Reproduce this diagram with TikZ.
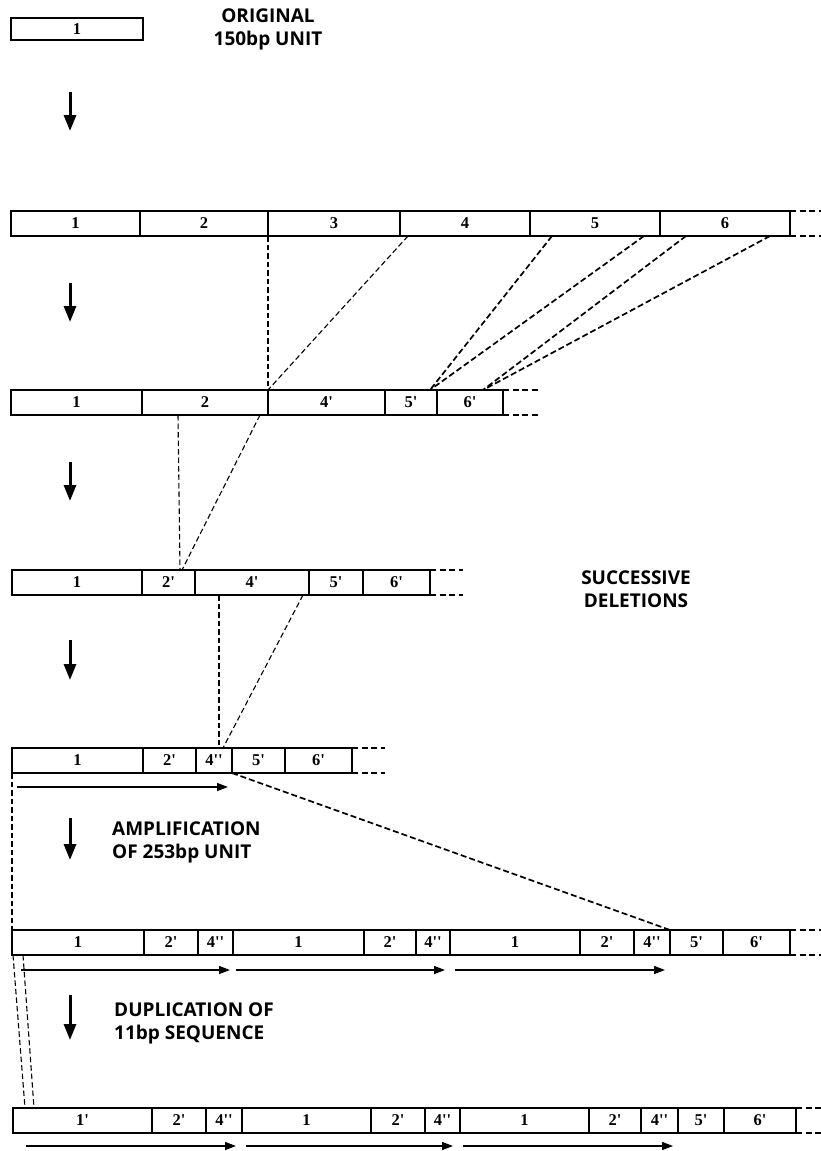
\documentclass[tikz,border=0pt]{standalone}
\usepackage{fontspec}
\setmainfont{Liberation Serif}
\newfontfamily\segfont{Liberation Serif}
\newfontfamily\labfont{Open Sans}
\usetikzlibrary{arrows.meta,calc}
\newcommand\mkseg[5]{\node[seg, minimum width={#3-#2}] (#1) at ({(#2+#3)/2},{#4+12.5}) {#5};}
\begin{document}
\begin{tikzpicture}[x=1pt,y=-1pt,
  seg/.style={draw, line width=1.3pt, rectangle, minimum height=25pt, inner sep=0pt, outer sep=0pt,
    font=\segfont\fontsize{16.5}{16.5}\selectfont\bfseries},
  lab/.style={font=\labfont\fontsize{19}{23}\selectfont\bfseries, inner sep=0pt},
  enddash/.style={line width=1.3pt, dash pattern=on 6pt off 3.5pt},
  thindash/.style={line width=1.1pt, dash pattern=on 5.5pt off 3pt},
  bolddash/.style={line width=1.7pt, dash pattern=on 6pt off 3pt},
  downarr/.style={line width=3pt, -{Triangle[length=16pt,width=12pt]}},
  unitarr/.style={line width=1.3pt, -{Triangle[length=11pt,width=8pt]}}]
\useasboundingbox (0,0) rectangle (821,1151);

% row 0
\node[seg, minimum width=132, minimum height=22] (r0) at (77,29) {1};
\node[lab, align=center] (orig) at (268,29) {ORIGINAL\\150bp UNIT};

% row 1
\mkseg{r1a}{11}{140}{211}{1}
\mkseg{r1b}{140}{268}{211}{2}
\mkseg{r1c}{268}{400}{211}{3}
\mkseg{r1d}{400}{530}{211}{4}
\mkseg{r1e}{530}{660}{211}{5}
\mkseg{r1f}{660}{790}{211}{6}
\draw[enddash] (r1f.north east) -- ++(31,0) (r1f.south east) -- ++(31,0);

% row 2
\mkseg{r2a}{11}{142}{390}{1}
\mkseg{r2b}{142}{268}{390}{2}
\mkseg{r2c}{268}{385}{390}{4'}
\mkseg{r2d}{385}{437}{390}{5'}
\mkseg{r2e}{437}{503}{390}{6'}
\draw[enddash] (r2e.north east) -- ++(35,0) (r2e.south east) -- ++(35,0);

% row 3
\mkseg{r3a}{12}{142}{570}{1}
\mkseg{r3b}{142}{195}{570}{2'}
\mkseg{r3c}{195}{309}{570}{4'}
\mkseg{r3d}{309}{363}{570}{5'}
\mkseg{r3e}{363}{430}{570}{6'}
\draw[enddash] (r3e.north east) -- ++(33,0) (r3e.south east) -- ++(33,0);
\node[lab, align=center] (succ) at (636,589) {SUCCESSIVE\\DELETIONS};

% row 4
\mkseg{r4a}{12}{143}{748}{1}
\mkseg{r4b}{143}{196}{748}{2'}
\mkseg{r4c}{196}{232}{748}{4''}
\mkseg{r4d}{232}{285}{748}{5'}
\mkseg{r4e}{285}{352}{748}{6'}
\draw[enddash] (r4e.north east) -- ++(33,0) (r4e.south east) -- ++(33,0);
\node[lab, align=left, anchor=west] (ampl) at (112,842) {AMPLIFICATION\\OF 253bp UNIT};

% row 5
\mkseg{r5a}{12}{144}{930}{1}
\mkseg{r5b}{144}{198}{930}{2'}
\mkseg{r5c}{198}{233}{930}{4''}
\mkseg{r5d}{233}{364}{930}{1}
\mkseg{r5e}{364}{416}{930}{2'}
\mkseg{r5f}{416}{450}{930}{4''}
\mkseg{r5g}{450}{580}{930}{1}
\mkseg{r5h}{580}{634}{930}{2'}
\mkseg{r5i}{634}{670}{930}{4''}
\mkseg{r5j}{670}{723}{930}{5'}
\mkseg{r5k}{723}{790}{930}{6'}
\draw[enddash] (r5k.north east) -- ++(31,0) (r5k.south east) -- ++(31,0);
\node[lab, align=left, anchor=west] (dupl) at (114,1023) {DUPLICATION OF\\11bp SEQUENCE};

% row 6
\mkseg{r6a}{13}{152}{1108}{1'}
\mkseg{r6b}{152}{206}{1108}{2'}
\mkseg{r6c}{206}{242}{1108}{4''}
\mkseg{r6d}{242}{371}{1108}{1}
\mkseg{r6e}{371}{425}{1108}{2'}
\mkseg{r6f}{425}{460}{1108}{4''}
\mkseg{r6g}{460}{589}{1108}{1}
\mkseg{r6h}{589}{641}{1108}{2'}
\mkseg{r6i}{641}{678}{1108}{4''}
\mkseg{r6j}{678}{724}{1108}{5'}
\mkseg{r6k}{724}{796}{1108}{6'}
\draw[enddash] (r6k.north east) -- ++(25,0) (r6k.south east) -- ++(25,0);

% vertical down arrows
\draw[downarr] (70,92) -- (70,131);
\draw[downarr] (70,283) -- (70,322);
\draw[downarr] (70,462) -- (70,501);
\draw[downarr] (70,640) -- (70,680);
\draw[downarr] (70,818) -- (70,860);
\draw[downarr] (70,995) -- (70,1040);

% unit arrows
\draw[unitarr] (17,787) -- (228,787);
\draw[unitarr] (21,970) -- (230,970);
\draw[unitarr] (236,970) -- (445,970);
\draw[unitarr] (455,970) -- (665,970);
\draw[unitarr] (26,1146) -- (236,1146);
\draw[unitarr] (246,1146) -- (453,1146);
\draw[unitarr] (463,1146) -- (673,1146);

% dashed connectors row1 -> row2
\draw[thindash] (r1c.south west) -- (r2c.north west);
\draw[thindash] ($(r1d.south west)+(8,0)$) -- (r2c.north west);
\draw[bolddash] ($(r1e.south west)+(22,0)$) -- ($(r2d.north east)+(-7,0)$);
\draw[bolddash] ($(r1e.south east)+(-16,0)$) -- ($(r2d.north east)+(-7,0)$);
\draw[bolddash] ($(r1f.south west)+(26,0)$) -- ($(r2e.north)+(13,0)$);
\draw[bolddash] ($(r1f.south east)+(-20,0)$) -- ($(r2e.north)+(13,0)$);

% row2 -> row3
\draw[thindash] ($(r2b.south west)+(36,0)$) -- ($(r3b.north west)+(38,0)$);
\draw[thindash] ($(r2b.south east)+(-8,0)$) -- ($(r3b.north west)+(40,0)$);

% row3 -> row4
\draw[thindash] ($(r3c.south west)+(24,0)$) -- ($(r4c.north)+(5,0)$);
\draw[thindash] ($(r3c.south east)+(-6,0)$) -- ($(r4c.north)+(9,0)$);

% row4 -> row5
\draw[bolddash] (r4c.south east) -- (r5i.north east);
\draw[thindash] (r4a.south west) -- (r5a.north west);

% row5 -> row6
\draw[thindash] ($(r5a.south west)+(1,0)$) -- ($(r6a.north west)+(12,0)$);
\draw[thindash] ($(r5a.south west)+(11,0)$) -- ($(r6a.north west)+(21,0)$);
\end{tikzpicture}
\end{document}
